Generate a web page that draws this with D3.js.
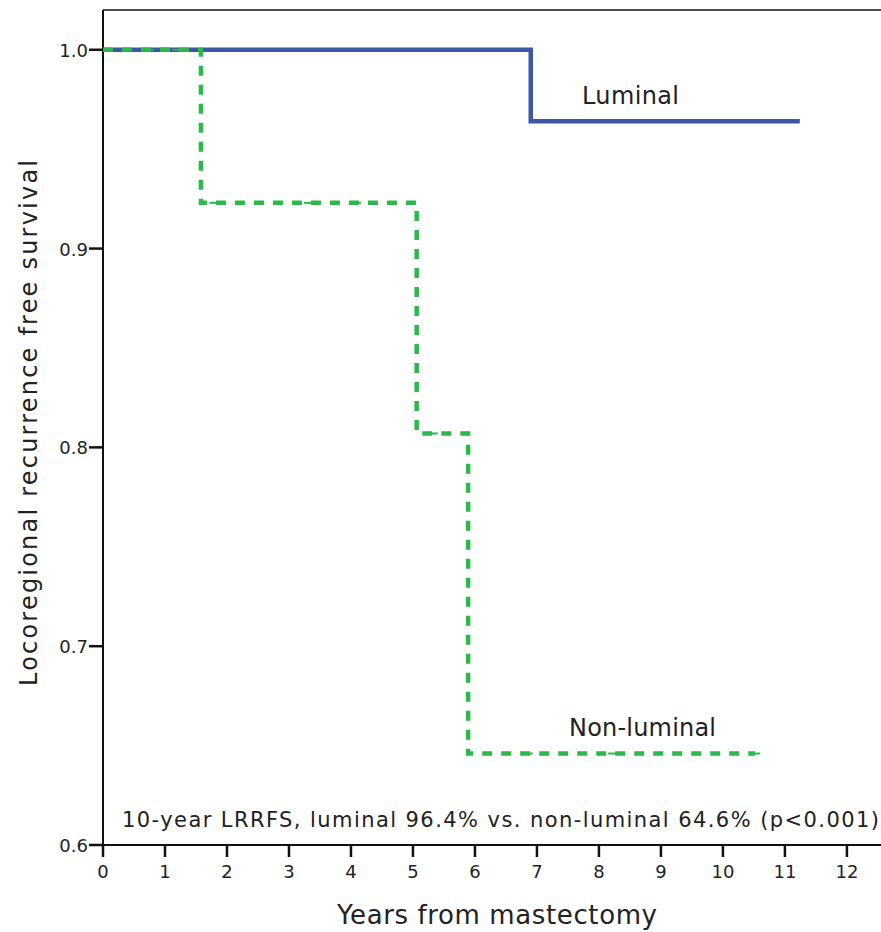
<!DOCTYPE html>
<html><head><meta charset="utf-8">
<script src="https://cdn.jsdelivr.net/npm/d3@7"></script>
<style>body{margin:0;background:#fff}svg{display:block}text{font-family:"DejaVu Sans","Noto Sans",sans-serif;fill:#222}</style>
</head><body><svg id="c" width="881" height="932"></svg>
<script>
// Data
const xTicks = [0,1,2,3,4,5,6,7,8,9,10,11,12];
const yTicks = [0.6,0.7,0.8,0.9,1.0];
const luminalTimes = [0, 6.90, 11.24];
const luminalSurv  = [1.0, 0.964, 0.964];
const nonLuminalTimes = [0, 1.58, 5.06, 5.89, 10.52];
const nonLuminalSurv  = [1.0, 0.923, 0.807, 0.646, 0.646];
const nonLuminalCensorT = [0.74, 1.2, 1.8, 3.32, 4.08, 5.32, 6.85, 8.23, 10.52];
const seriesNames = ["Luminal","Non-luminal"];
const annotation = "10-year LRRFS, luminal 96.4% vs. non-luminal 64.6% (p<0.001)";
const xTitle = "Years from mastectomy";
const yTitle = "Locoregional recurrence free survival";

const svg = d3.select("#c");
const x = d3.scaleLinear().domain([0,12.55]).range([103,881]);
const y = d3.scaleLinear().domain([0.6,1.02]).range([845,10]);

function stepPts(ts, ss){
  const p=[];
  for(let i=0;i<ts.length;i++){
    if(i>0) p.push([ts[i], ss[i-1]]);
    p.push([ts[i], ss[i]]);
  }
  return p;
}
function survAt(ts, ss, t){ let v=ss[0]; for(let i=0;i<ts.length;i++){ if(ts[i]<=t) v=ss[i]; } return v; }
const line = d3.line().x(d=>x(d[0])).y(d=>y(d[1]));

// Axes
const ax = svg.append("g");
ax.append("line").attr("x1",x(0)).attr("x2",881).attr("y1",y(0.6)).attr("y2",y(0.6)).attr("stroke","#111").attr("stroke-width",2);
ax.append("line").attr("x1",x(0)).attr("x2",x(0)).attr("y1",10).attr("y2",y(0.6)).attr("stroke","#111").attr("stroke-width",2);
ax.append("line").attr("x1",x(0)).attr("x2",881).attr("y1",10).attr("y2",10).attr("stroke","#111").attr("stroke-width",1.5);

xTicks.forEach(t=>{
  ax.append("line").attr("x1",x(t)).attr("x2",x(t)).attr("y1",y(0.6)).attr("y2",y(0.6)+12).attr("stroke","#111").attr("stroke-width",2.5);
  ax.append("text").attr("x",x(t)).attr("y",878).attr("text-anchor","middle").attr("font-size",18).text(t);
});
yTicks.forEach(v=>{
  ax.append("line").attr("x1",x(0)-14).attr("x2",x(0)).attr("y1",y(v)).attr("y2",y(v)).attr("stroke","#111").attr("stroke-width",2.5);
  ax.append("text").attr("x",x(0)-15).attr("y",y(v)+7).attr("text-anchor","end").attr("font-size",18).text(d3.format(".1f")(v));
});

// Lines
svg.append("path").attr("d",line(stepPts(luminalTimes,luminalSurv))).attr("fill","none").attr("stroke","#3d56a6").attr("stroke-width",4.5);
svg.append("path").attr("d",line(stepPts(nonLuminalTimes,nonLuminalSurv))).attr("fill","none").attr("stroke","#2cb84b").attr("stroke-width",4.5).attr("stroke-dasharray","10,9");
nonLuminalCensorT.forEach(t=>{
  const v=survAt(nonLuminalTimes,nonLuminalSurv,t);
  svg.append("line").attr("x1",x(t)-5).attr("x2",x(t)+5).attr("y1",y(v)).attr("y2",y(v)).attr("stroke","#2cb84b").attr("stroke-width",2);
});

// Labels
svg.append("text").attr("x",582).attr("y",104).attr("font-size",24).attr("textLength",97).text(seriesNames[0]);
svg.append("text").attr("x",569).attr("y",736).attr("font-size",24).attr("textLength",147).text(seriesNames[1]);
svg.append("text").attr("x",122).attr("y",827).attr("font-size",21).attr("textLength",757).text(annotation);
svg.append("text").attr("x",497).attr("y",924).attr("text-anchor","middle").attr("font-size",26).attr("textLength",320).text(xTitle);
svg.append("text").attr("transform","translate(37,423) rotate(-90)").attr("text-anchor","middle").attr("font-size",24).attr("textLength",526).text(yTitle);
</script></body></html>
